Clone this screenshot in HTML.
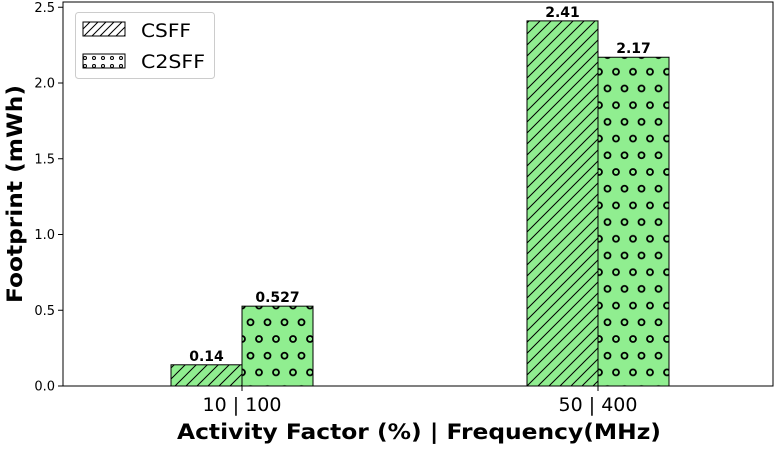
<!DOCTYPE html>
<html><head><meta charset="utf-8"><style>
body{margin:0;background:#fff;font-family:"DejaVu Sans","Liberation Sans",sans-serif}
svg text{font-family:"DejaVu Sans","Liberation Sans",sans-serif}
</style></head><body>
<svg id="chart" width="782" height="448" xmlns="http://www.w3.org/2000/svg">
<defs>
<pattern id="hatch" patternUnits="userSpaceOnUse" width="11" height="11">
<rect width="11" height="11" fill="#90ee90"/>
<path d="M-1,12 L12,-1 M-6,6 L6,-6 M5,17 L17,5" stroke="#000" stroke-width="1"/>
</pattern>
<pattern id="dots" patternUnits="userSpaceOnUse" width="17" height="33.4" x="0" y="0">
<rect width="17" height="33.4" fill="#90ee90"/>
<circle cx="4" cy="5" r="3" fill="none" stroke="#000" stroke-width="1.8"/>
<circle cx="12.5" cy="21.7" r="3" fill="none" stroke="#000" stroke-width="1.8"/>
</pattern>
<pattern id="hatchL" patternUnits="userSpaceOnUse" width="8" height="8">
<rect width="8" height="8" fill="#fff"/>
<path d="M-1,9 L9,-1 M-4,4 L4,-4 M4,12 L12,4" stroke="#000" stroke-width="1"/>
</pattern>
<pattern id="dotsL" patternUnits="userSpaceOnUse" width="9" height="8">
<rect width="9" height="8" fill="#fff"/>
<circle cx="4" cy="2" r="1.5" fill="none" stroke="#000" stroke-width="1"/>
</pattern>
</defs>
<g id="plot"></g>
<rect x="63" y="2" width="710" height="384" fill="none" stroke="#000" stroke-width="1"/>
<g>
<rect x="75.5" y="12.5" width="139" height="66" rx="3" fill="#fff" stroke="#ccc"/>
<rect x="83" y="22" width="42" height="14" fill="url(#hatchL)" stroke="#000"/>
<text x="141" y="37" font-size="19" textLength="50" lengthAdjust="spacingAndGlyphs">CSFF</text>
<rect x="83" y="54" width="42" height="14" fill="url(#dotsL)" stroke="#000"/>
<text x="141" y="68" font-size="19" textLength="64" lengthAdjust="spacingAndGlyphs">C2SFF</text>
</g>
<text x="177" y="439" font-size="21" font-weight="bold" textLength="484" lengthAdjust="spacingAndGlyphs">Activity Factor (%) | Frequency(MHz)</text>
<text transform="translate(22,303) rotate(-90)" font-size="21" font-weight="bold" textLength="218" lengthAdjust="spacingAndGlyphs">Footprint (mWh)</text>
</svg>
<script>
const categories = ["10 | 100", "50 | 400"];
const csffValues = [0.14, 2.41];
const c2sffValues = [0.527, 2.17];
const valueLabels1 = ["0.14", "2.41"];
const valueLabels2 = ["0.527", "2.17"];
const yTicks = [0, 0.5, 1, 1.5, 2, 2.5];
const yTickLabels = ["0.0", "0.5", "1.0", "1.5", "2.0", "2.5"];

const NS = "http://www.w3.org/2000/svg";
const svg = document.getElementById("chart");
const plot = document.getElementById("plot");
const y = v => 386 - v * 151.5;
const xc = i => 242 + i * 356;
const bw = 71;
function mk(tag, attrs, parent, txt) {
  const e = document.createElementNS(NS, tag);
  for (const k in attrs) e.setAttribute(k, attrs[k]);
  if (txt !== undefined) e.textContent = txt;
  (parent || svg).appendChild(e);
  return e;
}
yTicks.forEach((t, i) => {
  const l = mk("line", {x1: 58, x2: 63, y1: y(t), y2: y(t), stroke: "#000"});
  
  
  const tx = mk("text", {x: 55, y: y(t) + 4.5, "text-anchor": "end", "font-size": 13}, svg, yTickLabels[i]);
  
  
});
categories.forEach((c, i) => {
  const cx = xc(i);
  const b1 = mk("rect", {x: cx - bw, y: y(csffValues[i]), width: bw, height: y(0) - y(csffValues[i]), fill: "url(#hatch)", stroke: "#000", "stroke-width": 1}, plot);
  
  
  const b2 = mk("rect", {x: cx, y: y(c2sffValues[i]), width: bw, height: y(0) - y(c2sffValues[i]), fill: "url(#dots)", stroke: "#000", "stroke-width": 1}, plot);
  
  
  const v1 = mk("text", {x: cx - bw / 2, y: y(csffValues[i]) - 4, "text-anchor": "middle", "font-size": 14, "font-weight": "bold"}, svg, valueLabels1[i]);
  
  
  const v2 = mk("text", {x: cx + bw / 2, y: y(c2sffValues[i]) - 4, "text-anchor": "middle", "font-size": 14, "font-weight": "bold"}, svg, valueLabels2[i]);
  
  
  const tk = mk("line", {x1: cx, x2: cx, y1: 386, y2: 391, stroke: "#000"});
  
  
  const lb = mk("text", {x: cx, y: 411, "text-anchor": "middle", "font-size": 19}, svg, c);
  
  
});
</script>
</body></html>
